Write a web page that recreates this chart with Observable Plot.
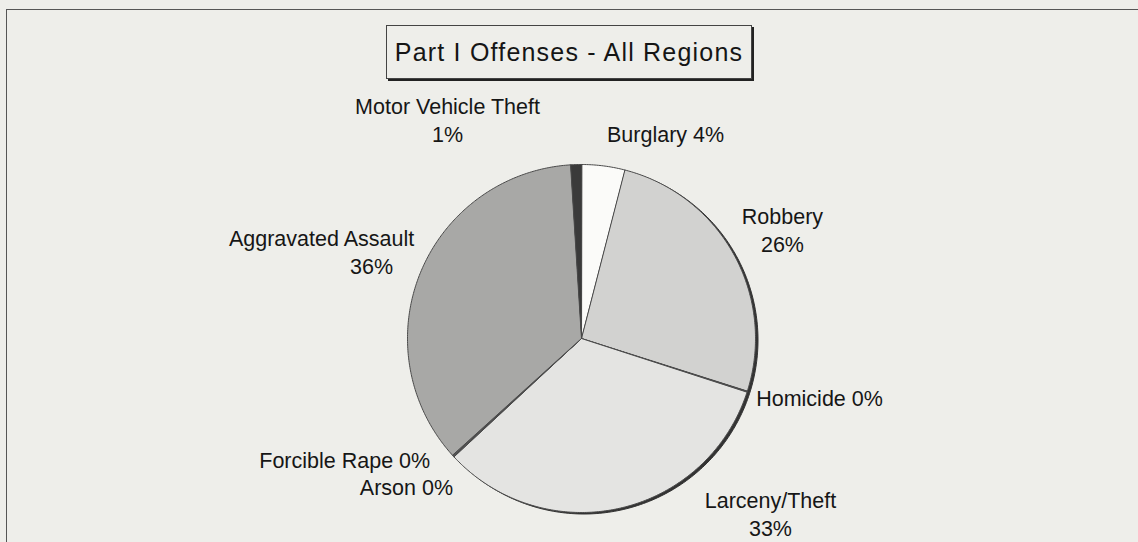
<!DOCTYPE html>
<html>
<head>
<meta charset="utf-8">
<script src="https://cdn.jsdelivr.net/npm/d3@7"></script>
<script src="https://cdn.jsdelivr.net/npm/@observablehq/plot@0.6"></script>
<style>
  html, body { margin: 0; padding: 0; background: #eeeeea; }
  #wrap { position: relative; width: 1138px; height: 542px; overflow: hidden; background: #eeeeea;
          font-family: "Liberation Sans", Arial, sans-serif; }
  #frame { position: absolute; left: 6px; top: 9px; width: 1300px; height: 700px;
           border-left: 1.5px solid #555; border-top: 1.5px solid #555; }
  #chart { position: absolute; left: 0; top: 0; }
  #title { position: absolute; left: 386px; top: 25px; width: 364px; height: 52px;
           border: 1px solid #444; box-shadow: 2px 2px 0 #222; background: #eeeeea;
           font-size: 25px; line-height: 52px; text-align: center; letter-spacing: 1.2px; color: #151515; }
</style>
</head>
<body>
<div id="wrap">
  <div id="frame"></div>
  <div id="chart"></div>
  <div id="title">Part I Offenses - All Regions</div>
</div>
<script>
// ---- data ----
const categories = ["Burglary", "Robbery", "Homicide", "Larceny/Theft", "Arson", "Forcible Rape", "Aggravated Assault", "Motor Vehicle Theft"];
const shares = [4.0, 25.8, 0.1, 33.0, 0.1, 0.1, 35.6, 1.0];
const sliceColors = ["#fbfbf9", "#d2d2d0", "#555555", "#e4e4e2", "#666666", "#666666", "#a8a8a6", "#3a3a3a"];
// label layout (pie-radius units); two-line labels put the percentage below, shifted by pctShift px
const labelU = [0.483, 1.155, 1.368, 1.086, -1.006, -1.361, -1.494, -0.770];
const labelV = [1.167, 0.618, -0.351, -1.017, -0.862, -0.707, 0.491, 1.247];
const labelBreak = [false, true, false, true, false, false, true, true];
const pctShift = [0, 0, 0, 0, 0, 0, 50, 0];

const rows = categories.map((name, i) => ({ name, share: shares[i] }));
const arcs = d3.pie().sort(null).value(d => d.share).startAngle(0).endAngle(2 * Math.PI)(rows);

const pts = [];
for (const a of arcs) {
  const name = a.data.name;
  const n = Math.max(2, Math.ceil((a.endAngle - a.startAngle) / 0.01));
  pts.push({ name, x: 0, y: 0 });
  for (let k = 0; k <= n; k++) {
    const t = a.startAngle + (a.endAngle - a.startAngle) * k / n;
    pts.push({ name, x: Math.sin(t), y: Math.cos(t) });
  }
}
const rim = d3.range(0, 361).map(d => ({ x: Math.sin(d * Math.PI / 180), y: Math.cos(d * Math.PI / 180) }));

const lineGap = 28; // px between label lines
const labels = [];
categories.forEach((name, i) => {
  const pct = Math.round(shares[i]) + "%";
  if (labelBreak[i]) {
    labels.push({ u: labelU[i], v: labelV[i], text: name, dy: -lineGap / 2, dx: 0 });
    labels.push({ u: labelU[i], v: labelV[i], text: pct, dy: lineGap / 2, dx: pctShift[i] });
  } else {
    labels.push({ u: labelU[i], v: labelV[i], text: name + " " + pct, dy: 0, dx: 0 });
  }
});

const textMarks = labels.map(l =>
  Plot.text([l], { x: "u", y: "v", text: "text", dx: l.dx, dy: l.dy, fontSize: 21.5, fill: "#161616" })
);

const chart = Plot.plot({
  width: 1138,
  height: 542,
  margin: 0,
  style: { background: "transparent", fontFamily: "'Liberation Sans', Arial, sans-serif" },
  x: { domain: [-1, 1], range: [407, 755], axis: null },
  y: { domain: [-1, 1], range: [512, 164], axis: null },
  color: { domain: categories, range: sliceColors },
  marks: [
    Plot.line(rim, { x: "x", y: "y", fill: "#333", stroke: "#333", strokeWidth: 1, curve: "linear-closed", dx: 2.5, dy: 1.5 }),
    Plot.line(pts, { x: "x", y: "y", z: "name", fill: "name", stroke: "#4a4a4a", strokeWidth: 1, curve: "linear-closed" }),
    ...textMarks
  ]
});
document.getElementById("chart").appendChild(chart);
</script>
</body>
</html>
